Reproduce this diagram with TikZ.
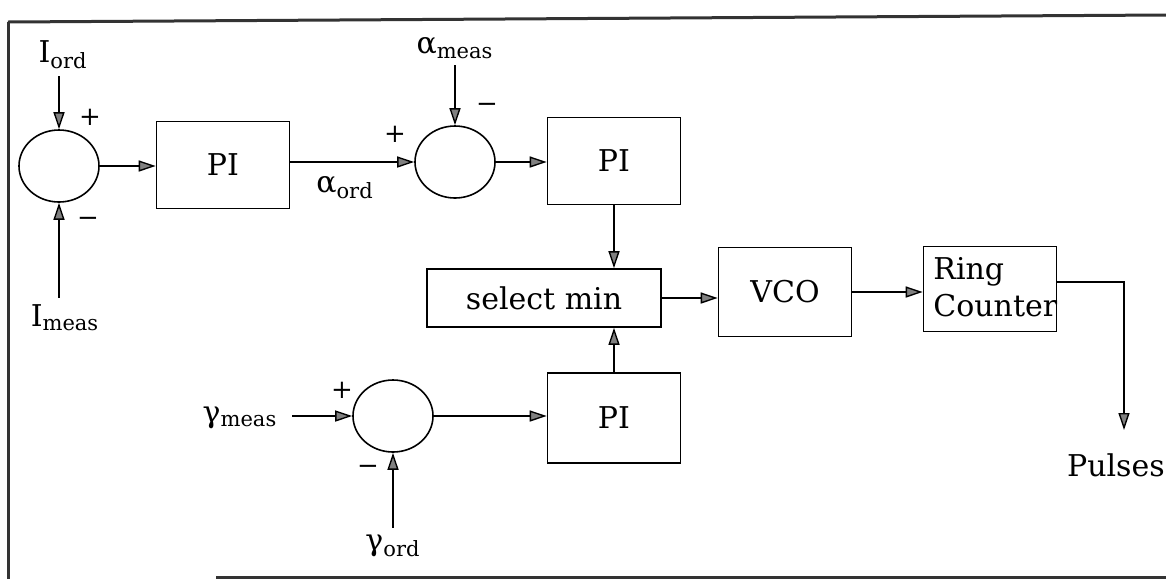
\documentclass[tikz,border=0pt]{standalone}
\usepackage{fontspec}
\setmainfont{DejaVu Serif}
\usetikzlibrary{arrows.meta,positioning,shapes.geometric,calc}

\begin{document}
\begin{tikzpicture}[
  x=0.5pt,y=-0.5pt,
  every node/.style={font=\fontsize{15}{18.5}\selectfont},
  block/.style={draw,line width=0.8pt,minimum width=66.5pt,minimum height=43.5pt,inner sep=0pt},
  sumnode/.style={draw,ellipse,line width=0.8pt,minimum width=40pt,minimum height=36pt,inner sep=0pt},
  sign/.style={font=\fontsize{13}{15}\selectfont,inner sep=0pt},
  arr/.style={-{Triangle[length=8.5pt,width=5.5pt,fill=gray]},line width=0.7pt},
  frameline/.style={line width=1.5pt,color=black!80}
]
\useasboundingbox (0,0) rectangle (1166,579);
% frame of the scanned figure
\draw[frameline] (8,22) -- (1166,15);
\draw[frameline] (8,22) -- (8,579);
\draw[frameline] (216,577) -- (1166,577);
% blocks
\node[sumnode] (s1) at (59,166) {};
\node[block] (pi1) at (223,165) {PI};
\node[sumnode] (s2) at (455,162) {};
\node[block] (pi2) at (614,161) {PI};
\node[block,minimum width=117pt,minimum height=29pt] (sel) at (544,298) {select min};
\node[block,minimum height=44.5pt] (vco) at (785,292) {VCO};
\node[block,minimum height=42.5pt] (ring) at (990,289) {};
\node[anchor=north west,align=left,inner sep=0pt] (ringtxt) at (933,257) {Ring\\Counter};
\node[block,minimum height=45pt] (pi3) at (614,418) {PI};
\node[sumnode] (s3) at (393,416) {};
% signal labels
\node (iord) at (63,55) {I\textsubscript{ord}};
\node (imeas) at (65,318) {I\textsubscript{meas}};
\node (aord) at (345,188) {α\textsubscript{ord}};
\node (ameas) at (455,48) {α\textsubscript{meas}};
\node (gmeas) at (240,418) {γ\textsubscript{meas}};
\node (gord) at (393,546) {γ\textsubscript{ord}};
\node[anchor=west] (pulses) at (1060,465) {Pulses};
\coordinate (pend) at (1124,430);
% signs
\node[sign] (p1) at (90,117) {+};
\node[sign] (m1) at (88,222) {−};
\node[sign] (p2) at (395,134) {+};
\node[sign] (m2) at (487,108) {−};
\node[sign] (p3) at (342,390) {+};
\node[sign] (m3) at (368,470) {−};
% connections
\draw[arr] (s1.north |- iord.south) -- (s1.north);
\draw[arr] (s1.south |- imeas.north) -- (s1.south);
\draw[arr] (s1) -- (s1 -| pi1.west);
\draw[arr] (pi1.east |- s2) -- (s2.west);
\draw[arr] (s2.north |- ameas.south) -- (s2.north);
\draw[arr] (s2) -- (s2 -| pi2.west);
\draw[arr] (pi2.south) -- (pi2.south |- sel.north);
\draw[arr] (sel.east) -- (sel.east -| vco.west);
\draw[arr] (vco.east) -- (vco.east -| ring.west);
\draw[arr] ([yshift=3.5pt]ring.east) -| (pend);
\draw[arr] (pi3.north) -- (pi3.north |- sel.south);
\draw[arr] (s3) -- (s3 -| pi3.west);
\draw[arr,shorten <=4pt] (gmeas.east |- s3) -- (s3.west);
\draw[arr] (s3.south |- gord.north) -- (s3.south);
\end{tikzpicture}
\end{document}
